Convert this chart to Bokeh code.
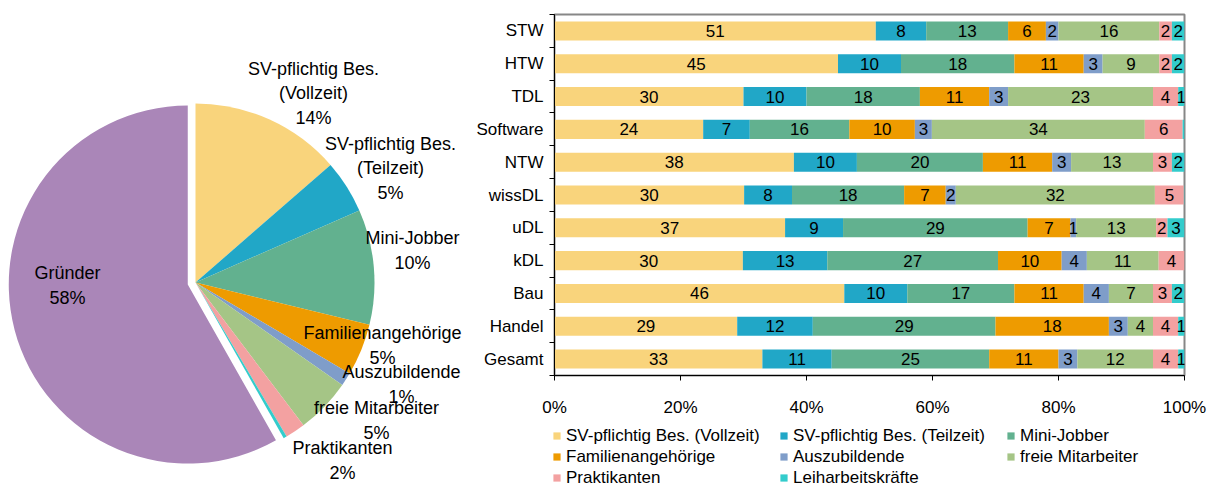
import math
from bokeh.plotting import figure
from bokeh.models import (Range1d, ColumnDataSource, LabelSet, Legend, LegendItem,
                          FixedTicker, NumeralTickFormatter)
from bokeh.layouts import row, column
from bokeh.embed import file_html
from bokeh.resources import INLINE
from bokeh.core.properties import value

FONT = "Liberation Sans"

# ---------------- data: pie ----------------
pie_names = ["SV-pflichtig Bes.\n(Vollzeit)", "SV-pflichtig Bes.\n(Teilzeit)", "Mini-Jobber",
             "Familienangehörige", "Auszubildende", "freie Mitarbeiter", "Praktikanten",
             "Leiharbeitskräfte", "Gründer"]
pie_values = [13.6, 4.8, 10.4, 4.7, 1.2, 5.0, 1.8, 0.3, 58.2]
pie_colors = ["#F9D47C", "#21A7C7", "#62B18F", "#EE9B00", "#7F9DC9", "#A5C586", "#F3A1A1",
              "#33CCCC", "#AA86B8"]

# ---------------- data: bars ----------------
categories = ["STW", "HTW", "TDL", "Software", "NTW", "wissDL", "uDL", "kDL", "Bau", "Handel", "Gesamt"]
series_names = ["SV-pflichtig Bes. (Vollzeit)", "SV-pflichtig Bes. (Teilzeit)", "Mini-Jobber",
                "Familienangehörige", "Auszubildende", "freie Mitarbeiter", "Praktikanten",
                "Leiharbeitskräfte"]
vollzeit = [51, 45, 30, 23.6, 38, 30.1, 36.6, 29.9, 46, 29, 33]
teilzeit = [8, 10, 10, 7.4, 10, 7.6, 9.2, 13.4, 10, 12, 11]
minijob = [13, 18, 18, 15.8, 20, 17.8, 29.3, 27.1, 17, 29, 25]
familie = [6, 11, 11, 10.4, 11, 6.6, 6.8, 10.1, 11, 18, 11]
azubi = [2, 3, 3, 2.7, 3, 1.6, 0.9, 4.0, 4, 3, 3]
freie = [16, 9, 23, 33.8, 13, 31.6, 12.7, 11.4, 7, 4, 12]
prakt = [2, 2, 4, 6.0, 3, 4.6, 1.8, 4.1, 3, 4, 4]
leih = [2, 2, 1, 0.3, 2, 0.1, 2.7, 0.0, 2, 1, 1]
series_values = [vollzeit, teilzeit, minijob, familie, azubi, freie, prakt, leih]
series_colors = pie_colors[:8]
x_ticks = [0, 0.2, 0.4, 0.6, 0.8, 1.0]

TOTAL_W, TOTAL_H = 1215, 488

# ---------------- pie figure ----------------
PIE_W = 462
pie = figure(width=PIE_W, height=TOTAL_H, x_range=Range1d(0, PIE_W), y_range=Range1d(-TOTAL_H, 0),
             output_backend="svg", toolbar_location=None, x_axis_location=None,
             y_axis_location=None, min_border=0)
pie.frame_align = False
pie.outline_line_color = None
pie.grid.visible = False

cx, cy, R, EXPLODE = 195, -282, 179, 8
total = sum(pie_values)
starts, ends, wx, wy = [], [], [], []
cum = 0.0
for name, v in zip(pie_names, pie_values):
    a0 = math.pi / 2 - 2 * math.pi * cum / total
    cum += v
    a1 = math.pi / 2 - 2 * math.pi * cum / total
    mid = (a0 + a1) / 2
    off = EXPLODE if name == "Gründer" else 0
    starts.append(a0)
    ends.append(a1)
    wx.append(cx + off * math.cos(mid))
    wy.append(cy + off * math.sin(mid))
pie.wedge(x=wx, y=wy, radius=R, start_angle=starts, end_angle=ends, direction="clock",
          fill_color=pie_colors, line_color=None)

# label placement offsets (layout) relative to pie centre
label_offsets = {
    "SV-pflichtig Bes.\n(Vollzeit)": (118, -189),
    "SV-pflichtig Bes.\n(Teilzeit)": (195, -114),
    "Mini-Jobber": (217, -32),
    "Familienangehörige": (187, 63),
    "Auszubildende": (206, 102),
    "freie Mitarbeiter": (181, 138),
    "Praktikanten": (147, 178),
    "Gründer": (-128, 3),
}
lx, ly, lt = [], [], []
for name, v in zip(pie_names, pie_values):
    if name not in label_offsets:
        continue
    dx, dy = label_offsets[name]
    lx.append(cx + dx)
    ly.append(cy - dy)
    lt.append(f"{name}\n{round(v / total * 100)}%")
pie.text(x=lx, y=ly, text=lt, text_align="center", text_baseline="middle",
         text_font=value(FONT), text_font_size="18px", text_line_height=1.22, text_color="#000000")

# ---------------- bar figure ----------------
BAR_W = TOTAL_W - PIE_W
BAR_H = 420
n = len(categories)
ypos = [n - i for i in range(n)]
totals = [sum(s[i] for s in series_values) for i in range(n)]
keys = [f"s{k}" for k in range(len(series_values))]
data = {"y": ypos}
for key, s in zip(keys, series_values):
    data[key] = [s[i] / totals[i] for i in range(n)]
source = ColumnDataSource(data)

bar = figure(width=BAR_W, height=BAR_H, x_range=Range1d(0, 1), y_range=Range1d(0.5, n + 0.5),
             output_backend="svg", toolbar_location=None,
             min_border_left=554 - PIE_W, min_border_right=TOTAL_W - 1184,
             min_border_top=14, min_border_bottom=BAR_H - 375)
bar.frame_align = False
bar.grid.visible = False
bar.outline_line_color = "#878787"
bar.outline_line_width = 2

renderers = bar.hbar_stack(keys, y="y", height=0.58, color=series_colors, line_color=None,
                           source=source)

# segment labels
lbx, lby, lbt = [], [], []
for i in range(n):
    left = 0.0
    for s in series_values:
        f = s[i] / totals[i]
        if round(s[i]) >= 1:
            lbx.append(left + f / 2)
            lby.append(ypos[i])
            lbt.append(str(round(s[i])))
        left += f
lsrc = ColumnDataSource(dict(x=lbx, y=lby, t=lbt))
bar.add_layout(LabelSet(x="x", y="y", text="t", source=lsrc, text_align="center",
                        text_baseline="middle", text_font=value(FONT), text_font_size="17px",
                        text_color="#000000"))

xa = bar.xaxis[0]
xa.ticker = FixedTicker(ticks=x_ticks)
xa.formatter = NumeralTickFormatter(format="0%")
xa.major_tick_out = 5
xa.major_tick_in = 0
xa.minor_tick_out = 0
xa.minor_tick_in = 0
xa.axis_line_color = "#000000"
xa.major_tick_line_color = "#000000"
xa.major_label_text_font = FONT
xa.major_label_text_font_size = "17px"
xa.major_label_text_color = "#000000"
xa.major_label_standoff = 17

ya = bar.yaxis[0]
ya.ticker = FixedTicker(ticks=ypos, minor_ticks=[k + 0.5 for k in range(n + 1)])
ya.major_label_overrides = {y: c for y, c in zip(ypos, categories)}
ya.major_tick_out = 0
ya.major_tick_in = 0
ya.minor_tick_out = 5
ya.minor_tick_in = 0
ya.minor_tick_line_color = "#000000"
ya.axis_line_color = "#000000"
ya.major_label_text_font = FONT
ya.major_label_text_font_size = "17px"
ya.major_label_text_color = "#000000"
ya.major_label_standoff = 6

# ---------------- legend figure (below the bars) ----------------
LEG_H = TOTAL_H - BAR_H
leg = figure(width=BAR_W, height=LEG_H, x_range=Range1d(100, 101), y_range=Range1d(100, 101),
             output_backend="svg", toolbar_location=None, x_axis_location=None,
             y_axis_location=None, min_border=0)
leg.frame_align = False
leg.outline_line_color = None
leg.grid.visible = False
leg_renderers = leg.hbar_stack(keys, y="y", height=0.58, color=series_colors, line_color=None,
                               source=source)
items = [LegendItem(label=nm, renderers=[r]) for nm, r in zip(series_names, leg_renderers)]
legend = Legend(items=items, orientation="horizontal", ncols=3, location=(552 - PIE_W, 0),
                glyph_width=9, glyph_height=9, label_standoff=5, spacing=0, padding=0, margin=0,
                label_text_font=FONT, label_text_font_size="17px", label_text_color="#000000",
                label_height=21, label_width=213, border_line_color=None,
                background_fill_alpha=0)
leg.add_layout(legend, "center")

layout = row(pie, column(bar, leg))
open("out.html", "w").write(file_html(layout, INLINE))
